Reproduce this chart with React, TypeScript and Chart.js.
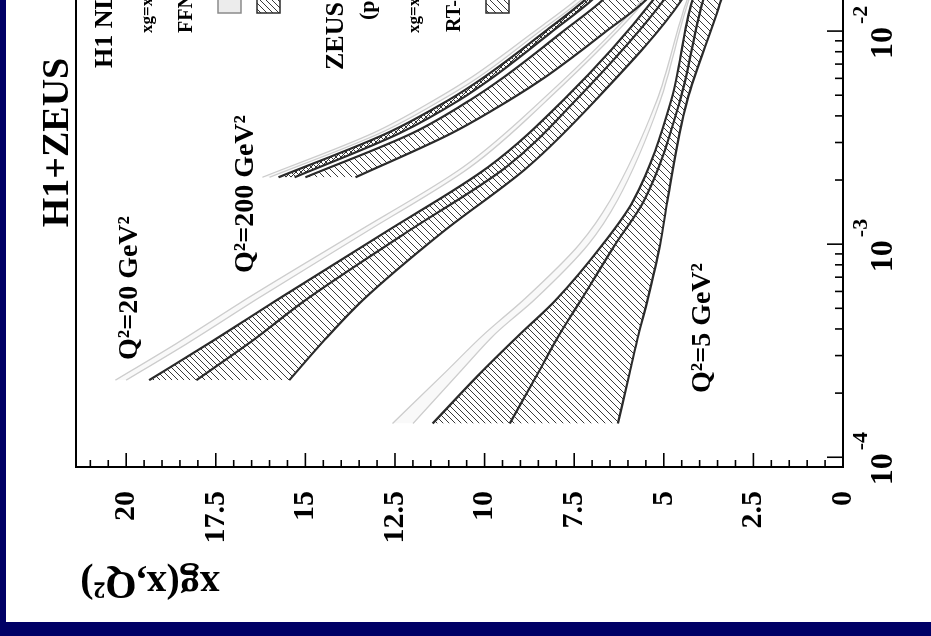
import React, { useEffect, useRef } from "react";
import { Chart, registerables } from "chart.js";

Chart.register(...registerables);

// ---------------- data ----------------
const xDecades = [1e-4, 1e-3, 1e-2, 1e-1];
const xDecadeExponents = ["-4", "-3", "-2", "-1"];
const xMin = 9e-5;
const xMax = 0.1;
const yMin = 0;
const yMax = 21.4;
const yMajorStep = 2.5;
const yMinorStep = 0.5;

// Q^2 = 5 GeV^2
const q5X = [1.44e-4, 2.5e-4, 3.8e-4, 5.5e-4, 1e-3, 1.6e-3, 4.7e-3, 1.4e-2, 3e-2, 1e-1];
const q5LightUp = [12.57, 11.1, 10.0, 8.9, 7.35, 6.5, 5.2, 4.35, 3.5, 2.3];
const q5LightLow = [12.0, 10.7, 9.7, 8.6, 7.1, 6.3, 5.1, 4.3, 3.45, 2.25];
const q5H1Up = [11.45, 10.1, 9.0, 8.0, 6.7, 5.85, 4.8, 4.2, 3.4, 2.1];
const q5Mid = [9.3, 8.5, 7.9, 7.3, 6.35, 5.55, 4.55, 3.9, 3.2, 2.0];
const q5ZeusLow = [6.28, 5.95, 5.7, 5.45, 5.1, 4.9, 4.35, 3.4, 2.9, 1.9];

// Q^2 = 20 GeV^2
const q20X = [2.3e-4, 3.5e-4, 5.46e-4, 1.13e-3, 2.3e-3, 4.75e-3, 1.4e-2, 3e-2, 1e-1];
const q20LightUp = [20.3, 18.5, 16.7, 13.6, 10.6, 8.4, 5.6, 4.15, 2.3];
const q20LightLow = [20.0, 18.2, 16.4, 13.35, 10.4, 8.25, 5.5, 4.1, 2.25];
const q20H1Up = [19.36, 17.6, 15.8, 12.8, 9.9, 7.8, 5.3, 4.0, 2.2];
const q20Mid = [18.04, 16.5, 15.0, 12.2, 9.4, 7.45, 5.0, 3.8, 2.1];
const q20ZeusLow = [15.45, 14.5, 13.4, 11.2, 8.8, 6.9, 4.5, 3.5, 2.0];

// Q^2 = 200 GeV^2
const q200X = [2.06e-3, 3.33e-3, 4.75e-3, 6.1e-3, 1e-2, 1.4e-2, 3e-2, 1e-1];
const q200LightUp = [16.2, 13.1, 11.4, 10.35, 8.6, 7.45, 5.35, 2.6];
const q200LightLow = [16.0, 12.9, 11.2, 10.15, 8.45, 7.3, 5.3, 2.55];
const q200H1Up = [15.75, 12.7, 11.0, 10.0, 8.3, 7.2, 5.2, 2.5];
const q200H1Low = [15.3, 12.35, 10.7, 9.75, 8.1, 7.0, 5.1, 2.45];
const q200ZeusUp = [15.0, 12.0, 10.4, 9.45, 7.8, 6.7, 4.9, 2.35];
const q200ZeusLow = [13.6, 10.9, 9.3, 8.3, 6.6, 5.5, 4.2, 2.1];

// texts
const titleText = "H1+ZEUS";
const yTitleText = "xg(x,Q\u00b2)";
const curveLabels = ["Q\u00b2=20 GeV\u00b2", "Q\u00b2=200 GeV\u00b2", "Q\u00b2=5 GeV\u00b2"];
const h1LegendLines = ["H1 NLO QCD Fit", "xg=x\u00b7g(x,Q\u00b2)", "FFNS scheme"];
const h1BoxLabels = ["exp. uncert.", "model uncert."];
const zeusLegendLines = ["ZEUS NLO QCD fit", "(prel.)", "xg=x\u00b7g(x,Q\u00b2)", "RT-VFNS scheme"];
const zeusBoxLabels = ["tot. uncert."];

// ---------------- styling ----------------
const FONT = '"Liberation Serif", "Times New Roman", serif';
const DARK = "#2b2b2b";
const LIGHT = "#cdcdcd";
const LIGHT_FILL = "rgba(205,205,205,0.12)";

function makeHatch(ctx: CanvasRenderingContext2D, s: number, color: string, w: number, cross = false) {
  const c = document.createElement("canvas");
  c.width = s;
  c.height = s;
  const g = c.getContext("2d")!;
  g.strokeStyle = color;
  g.lineWidth = w;
  g.beginPath();
  g.moveTo(-s, 2 * s);
  g.lineTo(2 * s, -s);
  g.moveTo(-s, s);
  g.lineTo(s, -s);
  g.moveTo(0, 2 * s);
  g.lineTo(2 * s, 0);
  if (cross) {
    g.moveTo(-s, -s);
    g.lineTo(2 * s, 2 * s);
  }
  g.stroke();
  return ctx.createPattern(c, "repeat")!;
}

function pts(xs: number[], ys: number[]) {
  return xs.map((x, i) => ({ x, y: ys[i] }));
}

function lineDs(label: string, xs: number[], ys: number[], color: string, width: number, fill: any, bg: any) {
  return {
    label,
    data: pts(xs, ys),
    borderColor: color,
    borderWidth: width,
    pointRadius: 0,
    pointHoverRadius: 0,
    fill,
    backgroundColor: bg,
    cubicInterpolationMode: "monotone" as const,
  };
}

export default function App() {
  const ref = useRef<HTMLCanvasElement>(null);

  useEffect(() => {
    const canvas = ref.current!;
    const ctx = canvas.getContext("2d")!;
    const hatchA = makeHatch(ctx, 6, "#3a3a3a", 1);
    const hatchB = makeHatch(ctx, 7, "#3a3a3a", 1);
    const hatchDense = makeHatch(ctx, 5, "#333", 1, true);

    const decor = {
      id: "decor",
      afterDraw(chart: any) {
        const { ctx: c, chartArea: ca, scales } = chart;
        const xs = scales.x;
        const ys = scales.y;
        c.save();
        // frame
        c.strokeStyle = "#000";
        c.lineWidth = 2;
        c.strokeRect(ca.left, ca.top, ca.right - ca.left, ca.bottom - ca.top);
        // value ticks (inside, along left edge)
        c.lineWidth = 1.6;
        const nMinor = Math.floor((yMax - yMin) / yMinorStep + 1e-9);
        for (let i = 0; i <= nMinor; i++) {
          const v = yMin + i * yMinorStep;
          const p = ys.getPixelForValue(v);
          const major = Math.abs(v / yMajorStep - Math.round(v / yMajorStep)) < 1e-6;
          c.beginPath();
          c.moveTo(ca.left, p);
          c.lineTo(ca.left + (major ? 14 : 7), p);
          c.stroke();
        }
        // log ticks (inside, along bottom edge)
        for (let e = -5; e <= 0; e++) {
          for (let k = 1; k <= 9; k++) {
            const val = k * Math.pow(10, e);
            if (val < xs.min || val > xs.max) continue;
            const p = xs.getPixelForValue(val);
            c.beginPath();
            c.moveTo(p, ca.bottom);
            c.lineTo(p, ca.bottom - (k === 1 ? 16 : 8));
            c.stroke();
          }
        }
        // decade labels 10^n
        c.fillStyle = "#000";
        c.textBaseline = "alphabetic";
        xDecades.forEach((d, i) => {
          if (d < xs.min || d > xs.max) return;
          const p = xs.getPixelForValue(d);
          c.font = `bold 32px ${FONT}`;
          c.textAlign = "right";
          c.fillText("10", p + 4, ca.bottom + 49);
          c.font = `bold 22px ${FONT}`;
          c.textAlign = "left";
          c.fillText(xDecadeExponents[i], p + 7, ca.bottom + 24);
        });
        // y title (rotated)
        c.save();
        c.translate(50, ca.top + 74);
        c.rotate(-Math.PI / 2);
        c.font = `bold 40px ${FONT}`;
        c.textAlign = "center";
        c.fillText(yTitleText, 0, 0);
        c.restore();
        // main title
        c.font = `bold 38px ${FONT}`;
        c.textAlign = "center";
        c.fillText(titleText, (ca.left + ca.right) / 2, ca.top - 8);
        // curve labels
        c.font = `bold 28px ${FONT}`;
        c.textAlign = "left";
        c.fillText(curveLabels[0], 262, 131);
        c.fillText(curveLabels[1], 349, 247);
        c.fillText(curveLabels[2], 229, 704);
        // H1 legend
        c.font = `bold 26px ${FONT}`;
        c.fillText(h1LegendLines[0], 554, 106);
        c.font = `bold 17px ${FONT}`;
        c.fillText(h1LegendLines[1], 589, 146);
        c.font = `bold 20px ${FONT}`;
        c.fillText(h1LegendLines[2], 589, 186);
        // boxes
        const box = (u: number, v: number, fill: any, stroke: string) => {
          c.fillStyle = fill;
          c.fillRect(u, v, 23, 23);
          c.strokeStyle = stroke;
          c.lineWidth = 1.5;
          c.strokeRect(u, v, 23, 23);
        };
        box(609, 212, "#ececec", "#8a8a8a");
        box(609, 251, hatchA, DARK);
        c.fillStyle = "#000";
        c.font = `bold 18px ${FONT}`;
        c.fillText(h1BoxLabels[0], 640, 230);
        c.fillText(h1BoxLabels[1], 640, 269);
        // ZEUS legend
        c.font = `bold 26px ${FONT}`;
        c.fillText(zeusLegendLines[0], 552, 337);
        c.font = `bold 22px ${FONT}`;
        c.fillText(zeusLegendLines[1], 602, 368);
        c.font = `bold 17px ${FONT}`;
        c.fillText(zeusLegendLines[2], 589, 413);
        c.font = `bold 20px ${FONT}`;
        c.fillText(zeusLegendLines[3], 590, 454);
        box(609, 480, hatchB, DARK);
        c.fillStyle = "#000";
        c.font = `bold 18px ${FONT}`;
        c.fillText(zeusBoxLabels[0], 640, 498);
        c.restore();
      },
    };

    const datasets = [
      // Q2 = 5
      lineDs("Q2=5 H1", q5X, q5H1Up, DARK, 2.2, "+1", hatchA),
      lineDs("Q2=5 mid", q5X, q5Mid, DARK, 2.2, "+1", hatchB),
      lineDs("Q2=5 ZEUS", q5X, q5ZeusLow, DARK, 2.2, false, "transparent"),
      // Q2 = 20
      lineDs("Q2=20 H1", q20X, q20H1Up, DARK, 2.2, "+1", hatchA),
      lineDs("Q2=20 mid", q20X, q20Mid, DARK, 2.2, "+1", hatchB),
      lineDs("Q2=20 ZEUS", q20X, q20ZeusLow, DARK, 2.2, false, "transparent"),
      // Q2 = 200
      lineDs("Q2=200 H1 up", q200X, q200H1Up, DARK, 2.2, "+1", hatchDense),
      lineDs("Q2=200 H1 low", q200X, q200H1Low, DARK, 2.2, false, "transparent"),
      lineDs("Q2=200 ZEUS up", q200X, q200ZeusUp, DARK, 2.2, "+1", hatchB),
      lineDs("Q2=200 ZEUS low", q200X, q200ZeusLow, DARK, 2.2, false, "transparent"),
      // light bands
      lineDs("Q2=5 light", q5X, q5LightUp, LIGHT, 1.3, "+1", LIGHT_FILL),
      lineDs("Q2=5 light low", q5X, q5LightLow, LIGHT, 1.3, false, "transparent"),
      lineDs("Q2=20 light", q20X, q20LightUp, LIGHT, 1.3, "+1", LIGHT_FILL),
      lineDs("Q2=20 light low", q20X, q20LightLow, LIGHT, 1.3, false, "transparent"),
      lineDs("Q2=200 light", q200X, q200LightUp, LIGHT, 1.3, "+1", LIGHT_FILL),
      lineDs("Q2=200 light low", q200X, q200LightLow, LIGHT, 1.3, false, "transparent"),
    ];

    const chart = new Chart(canvas, {
      type: "line",
      data: { datasets } as any,
      options: {
        responsive: false,
        animation: false,
        events: [],
        layout: { padding: { top: 70, right: 26, left: 0, bottom: 0 } },
        plugins: {
          legend: { display: false },
          title: { display: false },
          tooltip: { enabled: false },
          filler: { drawTime: "beforeDatasetsDraw" },
        } as any,
        scales: {
          x: {
            type: "logarithmic",
            min: xMin,
            max: xMax,
            grid: { display: false },
            border: { display: false },
            ticks: { display: false },
            afterFit: (s: any) => {
              s.height = 88;
            },
          },
          y: {
            type: "linear",
            min: yMin,
            max: yMax,
            grid: { display: false },
            border: { display: false },
            ticks: {
              stepSize: yMajorStep,
              includeBounds: false,
              autoSkip: false,
              padding: 16,
              color: "#000",
              font: { family: FONT, size: 30, weight: "bold" },
              callback: (v: any) => String(v),
            },
            afterFit: (s: any) => {
              s.width = 155;
            },
          },
        } as any,
      },
      plugins: [decor],
    });

    return () => chart.destroy();
  }, []);

  return (
    <div
      style={{
        position: "fixed",
        left: 0,
        top: 0,
        width: 931,
        height: 636,
        overflow: "hidden",
        background: "#000066",
      }}
    >
      <div style={{ position: "absolute", left: 6, top: 0, width: 925, height: 622, background: "#ffffff" }} />
      <canvas
        ref={ref}
        width={830}
        height={925}
        style={{
          position: "absolute",
          left: 6,
          top: 622,
          width: 830,
          height: 925,
          transform: "rotate(-90deg)",
          transformOrigin: "0 0",
        }}
      />
    </div>
  );
}
